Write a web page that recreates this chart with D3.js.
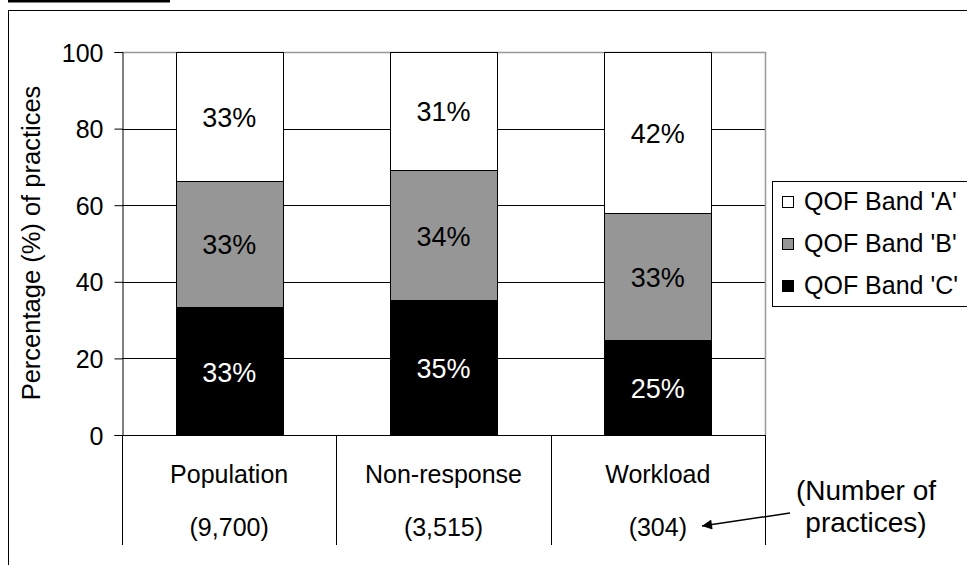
<!DOCTYPE html>
<html><head><meta charset="utf-8">
<script src="https://cdn.jsdelivr.net/npm/d3@7"></script>
<style>body{margin:0;background:#fff}svg{display:block;font-family:"Liberation Sans",Arial,sans-serif}</style>
</head><body>
<script>
const categories = ["Population", "Non-response", "Workload"];
const counts = ["(9,700)", "(3,515)", "(304)"];
const series = ["QOF Band 'C'", "QOF Band 'B'", "QOF Band 'A'"];
const bandC = [33.4, 35.2, 24.8];
const bandB = [33.0, 34.0, 33.2];
const bandA = [33.6, 30.8, 42.0];
const labelsC = ["33%", "35%", "25%"];
const labelsB = ["33%", "34%", "33%"];
const labelsA = ["33%", "31%", "42%"];
const yTicks = [0, 20, 40, 60, 80, 100];
const legendOrder = ["QOF Band 'A'", "QOF Band 'B'", "QOF Band 'C'"];
const fills = {"QOF Band 'C'": "#000000", "QOF Band 'B'": "#969696", "QOF Band 'A'": "#ffffff"};

(function () {
const W = 967, H = 565;
const svg = d3.select("body").append("svg").attr("width", W).attr("height", H);

// cut-off heading fragment and outer frame
svg.append("rect").attr("x", 8).attr("y", 0).attr("width", 162).attr("height", 2.5).attr("fill", "#000");
svg.append("rect").attr("x", 8.5).attr("y", 10.5).attr("width", 1000).attr("height", 600)
  .attr("fill", "none").attr("stroke", "#000").attr("stroke-width", 1);

const pL = 122, pR = 765, pT = 52, pB = 435;
const x = d3.scaleBand().domain(categories).range([pL, pR]).paddingInner(0).paddingOuter(0);
const y = d3.scaleLinear().domain([0, 100]).range([pB, pT]);
const barW = x.bandwidth() / 2;

// gridlines
svg.append("g").selectAll("line").data(yTicks.filter(d => d > 0 && d < 100)).join("line")
  .attr("x1", pL).attr("x2", pR).attr("y1", d => Math.round(y(d)) + 0.5).attr("y2", d => Math.round(y(d)) + 0.5)
  .attr("stroke", "#000").attr("stroke-width", 1);
// plot area border (top/right gray)
svg.append("path").attr("d", `M${pL},${pT + 0.5}H${pR + 0.5}V${pB}`)
  .attr("fill", "none").attr("stroke", "#999").attr("stroke-width", 1.5);

// stacked bars
const stackData = categories.map((c, i) => ({cat: c, "QOF Band 'C'": bandC[i], "QOF Band 'B'": bandB[i], "QOF Band 'A'": bandA[i]}));
const stacked = d3.stack().keys(series)(stackData);
const labelSets = {"QOF Band 'C'": labelsC, "QOF Band 'B'": labelsB, "QOF Band 'A'": labelsA};
stacked.forEach(layer => {
  const g = svg.append("g");
  g.selectAll("rect").data(layer).join("rect")
    .attr("x", d => Math.round(x(d.data.cat) + x.bandwidth() / 4) + 0.5)
    .attr("width", Math.round(barW))
    .attr("y", d => Math.round(y(d[1])) + 0.5)
    .attr("height", d => Math.round(y(d[0])) - Math.round(y(d[1])))
    .attr("fill", fills[layer.key]).attr("stroke", "#000").attr("stroke-width", 1);
  g.selectAll("text").data(layer).join("text")
    .attr("x", d => x(d.data.cat) + x.bandwidth() / 2)
    .attr("y", d => (y(d[0]) + y(d[1])) / 2 + 10.5)
    .attr("text-anchor", "middle").attr("font-size", 27)
    .attr("fill", layer.key === "QOF Band 'C'" ? "#fff" : "#000")
    .text((d, i) => labelSets[layer.key][i]);
});

// y axis
const yAxis = d3.axisLeft(y).tickValues(yTicks).tickSize(8).tickPadding(11);
const ya = svg.append("g").attr("transform", `translate(${pL + 0.5},0)`).call(yAxis);
ya.select(".domain").attr("stroke", "#000");
ya.selectAll(".tick line").attr("stroke", "#000");
ya.selectAll("text").attr("font-size", 25).attr("fill", "#000").attr("font-family", "Liberation Sans, Arial, sans-serif").attr("dy", "0.36em");

// x axis line and separators
svg.append("line").attr("x1", pL).attr("x2", pR + 0.5).attr("y1", pB + 0.5).attr("y2", pB + 0.5).attr("stroke", "#000");
const seps = categories.map(c => x(c)).concat([pR]);
svg.append("g").selectAll("line").data(seps).join("line")
  .attr("x1", d => Math.round(d) + 0.5).attr("x2", d => Math.round(d) + 0.5)
  .attr("y1", pB).attr("y2", 545).attr("stroke", "#000");
svg.append("g").selectAll("text").data(categories).join("text")
  .attr("x", d => x(d) + x.bandwidth() / 2).attr("y", 483)
  .attr("text-anchor", "middle").attr("font-size", 25).text(d => d);
svg.append("g").selectAll("text").data(counts).join("text")
  .attr("x", (d, i) => x(categories[i]) + x.bandwidth() / 2).attr("y", 536)
  .attr("text-anchor", "middle").attr("font-size", 25).text(d => d);

// y title
svg.append("text").attr("transform", `translate(40,243) rotate(-90)`)
  .attr("text-anchor", "middle").attr("font-size", 25.5).text("Percentage (%) of practices");

// legend
const lg = svg.append("g").attr("transform", "translate(772,181)");
lg.append("rect").attr("x", 0.5).attr("y", 0.5).attr("width", 300).attr("height", 125)
  .attr("fill", "#fff").attr("stroke", "#000");
legendOrder.forEach((s, i) => {
  lg.append("rect").attr("x", 10.5).attr("y", 15.5 + i * 42).attr("width", 11).attr("height", 11)
    .attr("fill", fills[s]).attr("stroke", "#000");
  lg.append("text").attr("x", 32).attr("y", 29 + i * 42).attr("font-size", 25).text(s);
});

// annotation
svg.append("text").attr("x", 866).attr("y", 500).attr("text-anchor", "middle").attr("font-size", 28).text("(Number of");
svg.append("text").attr("x", 866).attr("y", 532).attr("text-anchor", "middle").attr("font-size", 28).text("practices)");
svg.append("defs").append("marker").attr("id", "ah").attr("viewBox", "0 0 10 10").attr("refX", 10).attr("refY", 5)
  .attr("markerWidth", 14).attr("markerHeight", 10).attr("orient", "auto").attr("markerUnits", "userSpaceOnUse")
  .append("path").attr("d", "M0,0L10,5L0,10z").attr("fill", "#000");
svg.append("line").attr("x1", 790).attr("y1", 513).attr("x2", 702).attr("y2", 526)
  .attr("stroke", "#000").attr("stroke-width", 1.5).attr("marker-end", "url(#ah)");
})();
</script>
</body></html>
